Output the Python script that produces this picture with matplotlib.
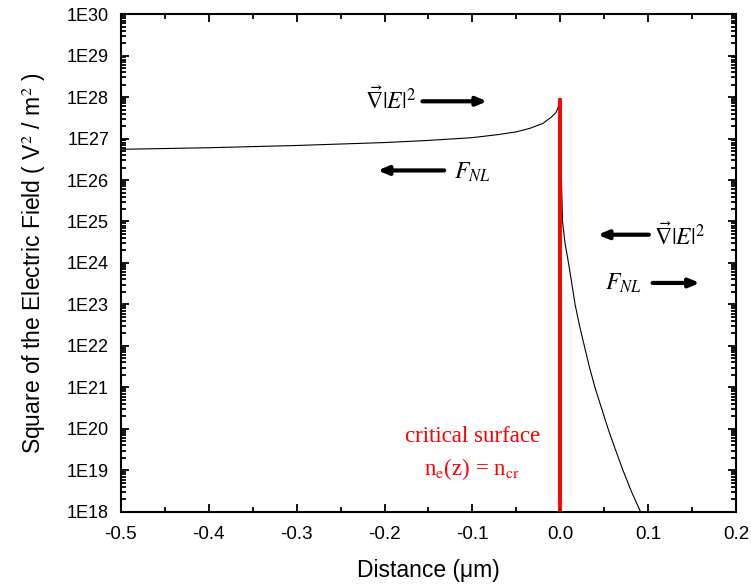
import numpy as np
import matplotlib
matplotlib.use('Agg')
import matplotlib.pyplot as plt
from matplotlib.ticker import FuncFormatter, LogLocator, MultipleLocator

plt.rcParams['font.family'] = 'Liberation Sans'
plt.rcParams['mathtext.fontset'] = 'stix'

# field before the critical surface (under-dense side)
left_x = [-0.5, -0.4, -0.3, -0.2, -0.15, -0.1, -0.07, -0.05, -0.035, -0.02, -0.01, -0.005, -0.003, 0.0]
left_y = [5.5e26, 6.0e26, 6.8e26, 8.0e26, 9.0e26, 1.05e27, 1.25e27, 1.45e27, 1.75e27, 2.3e27,
          3.3e27, 4.2e27, 5.2e27, 8.3e27]

# evanescent field past the critical surface
right_x = [0.0, 0.0005, 0.001, 0.0026, 0.0053, 0.0094, 0.0132, 0.0169, 0.0218, 0.0274, 0.0331,
           0.0395, 0.047, 0.0545, 0.0628, 0.0714, 0.0808, 0.0914, 0.095]
right_y = [8.3e27, 1e27, 2e26, 1e25, 3.16e24, 1e24, 3.16e23, 1e23, 3.16e22, 1e22, 3.16e21,
           1e21, 3.16e20, 1e20, 3.16e19, 1e19, 3.16e18, 1e18, 6e17]

crit_x = [0.0, 0.0]
crit_y = [1e18, 8.3e27]

fig = plt.figure(figsize=(7.51, 5.87), dpi=100)
ax = fig.add_axes([0.161, 0.128, 0.819, 0.848])

ax.plot(left_x, left_y, color='black', lw=0.8)
ax.plot(right_x, right_y, color='black', lw=0.8)
ax.plot(crit_x, crit_y, color='red', lw=2.8)

ax.set_yscale('log')
ax.set_xlim(-0.5, 0.2)
ax.set_ylim(1e18, 1e30)

ax.xaxis.set_major_locator(MultipleLocator(0.1))
ax.xaxis.set_minor_locator(MultipleLocator(0.05))
ax.xaxis.set_major_formatter(FuncFormatter(lambda v, p: f'{v:.1f}'))
ax.yaxis.set_major_locator(LogLocator(base=10, numticks=20))
ax.yaxis.set_minor_locator(LogLocator(base=10, subs=np.arange(2, 10), numticks=20))
ax.yaxis.set_major_formatter(FuncFormatter(lambda v, p: f'1E{int(round(np.log10(v)))}'))

ax.tick_params(which='both', direction='in', top=True, right=True, width=1.3, labelsize=13)
ax.tick_params(which='major', length=6)
ax.tick_params(which='minor', length=3.5)
ax.tick_params(axis='x', labelsize=13.5, pad=10)
ax.tick_params(axis='y', pad=8.5)
for s in ax.spines.values():
    s.set_linewidth(1.5)

ax.set_xlabel('Distance (μm)', fontsize=16.5, labelpad=12)
ax.set_ylabel('Square of the Electric Field ( V$^{\\rm 2}$ / m$^{\\rm 2}$ )', fontsize=16.5, labelpad=14)

arrow = dict(arrowstyle='-|>,head_length=0.6,head_width=0.25', lw=3, color='black')

# gradient and ponderomotive force on the left side
ax.text(-0.193, 10**27.92, r'$\vec{\nabla}|E|^{2}$', fontsize=17, ha='center', va='center')
ax.annotate('', xy=(-0.080, 7.9e27), xytext=(-0.160, 7.9e27), arrowprops=arrow)
ax.annotate('', xy=(-0.211, 1.7e26), xytext=(-0.129, 1.7e26), arrowprops=arrow)
ax.text(-0.121, 10**26.18, r'$F_{NL}$', fontsize=17, ha='left', va='center')

# right side
ax.annotate('', xy=(0.0395, 4.8e24), xytext=(0.104, 4.8e24), arrowprops=arrow)
ax.text(0.107, 10**24.65, r'$\vec{\nabla}|E|^{2}$', fontsize=17, ha='left', va='center')
ax.text(0.051, 10**23.52, r'$F_{NL}$', fontsize=17, ha='left', va='center')
ax.annotate('', xy=(0.162, 3.3e23), xytext=(0.102, 3.3e23), arrowprops=arrow)

ax.text(-0.100, 10**19.81, 'critical surface', color='red', fontsize=16.5,
        family='Liberation Serif', ha='center', va='center')
ax.text(-0.100, 10**19.04, r'n$_{\rm e}$(z) = n$_{\rm cr}$', color='red', fontsize=16.5,
        family='Liberation Serif', ha='center', va='center')

fig.savefig('out.png', dpi=100)
